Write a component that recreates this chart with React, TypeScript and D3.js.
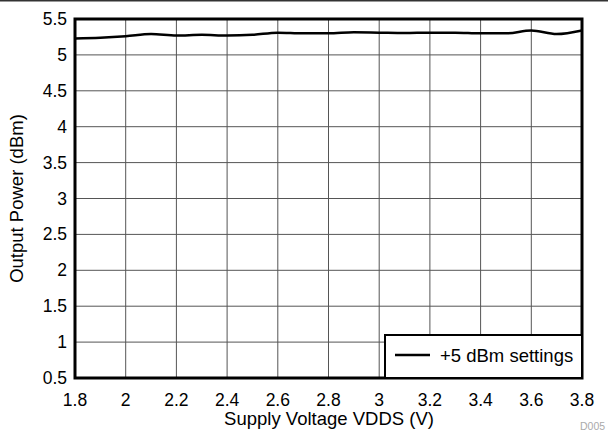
import React from "react";
import * as d3 from "d3";

const voltages = [1.8, 1.9, 2.0, 2.1, 2.2, 2.3, 2.4, 2.5, 2.6, 2.7, 2.8, 2.9, 3.0, 3.1, 3.2, 3.3, 3.4, 3.5, 3.6, 3.7, 3.8];
const power = [5.23, 5.24, 5.26, 5.29, 5.27, 5.28, 5.27, 5.28, 5.31, 5.30, 5.30, 5.315, 5.31, 5.305, 5.31, 5.31, 5.30, 5.30, 5.34, 5.29, 5.34];
const xTicks = [1.8, 2, 2.2, 2.4, 2.6, 2.8, 3, 3.2, 3.4, 3.6, 3.8];
const yTicks = [0.5, 1, 1.5, 2, 2.5, 3, 3.5, 4, 4.5, 5, 5.5];
const seriesName = "+5 dBm settings";

const W = 608, H = 432;
const L = 75, R = 582, T = 19, B = 378;
const font = "'Liberation Sans', Arial, Helvetica, sans-serif";

export default function App() {
  const x = d3.scaleLinear().domain([1.8, 3.8]).range([L, R]);
  const y = d3.scaleLinear().domain([0.5, 5.5]).range([B, T]);
  const line = d3.line<number>()
    .x((_, i) => x(voltages[i]))
    .y((d) => y(d))
    .curve(d3.curveMonotoneX);
  return (
    <svg width={W} height={H} style={{ position: "absolute", left: 0, top: 0, background: "#fff" }} fontFamily={font}>
      <rect x={0} y={0} width={W} height={H} fill="#fff" />
      <line x1={0} x2={W} y1={0.75} y2={0.75} stroke="#333" strokeWidth={1.5} />
      {xTicks.map((t) => (
        <line key={"gx" + t} x1={x(t)} x2={x(t)} y1={T} y2={B} stroke="#555" strokeWidth={1} />
      ))}
      {yTicks.map((t) => (
        <line key={"gy" + t} x1={L} x2={R} y1={y(t)} y2={y(t)} stroke="#555" strokeWidth={1} />
      ))}
      <path d={line(power) || ""} fill="none" stroke="#000" strokeWidth={2.5} />
      <rect x={L} y={T} width={R - L} height={B - T} fill="none" stroke="#000" strokeWidth={3} />
      {xTicks.map((t) => (
        <text key={"tx" + t} x={x(t)} y={405.5} textAnchor="middle" fontSize={17.5} fill="#000">{String(t)}</text>
      ))}
      {yTicks.map((t) => (
        <text key={"ty" + t} x={67} y={y(t) + 6} textAnchor="end" fontSize={17.5} fill="#000">{String(t)}</text>
      ))}
      <text x={(L + R) / 2 + 0.5} y={425} textAnchor="middle" fontSize={18.5} fill="#000">Supply Voltage VDDS (V)</text>
      <text transform={`translate(23,${(T + B) / 2}) rotate(-90)`} textAnchor="middle" fontSize={18.5} fill="#000">Output Power (dBm)</text>
      <rect x={385} y={335} width={R - 385} height={B - 335} fill="#fff" stroke="#000" strokeWidth={2} />
      <line x1={395} x2={430} y1={355} y2={355} stroke="#000" strokeWidth={2.5} />
      <text x={440} y={361.5} fontSize={18.5} fill="#000">{seriesName}</text>
      <text x={580} y={430} fontSize={10.5} fill="#aaa">D005</text>
    </svg>
  );
}
